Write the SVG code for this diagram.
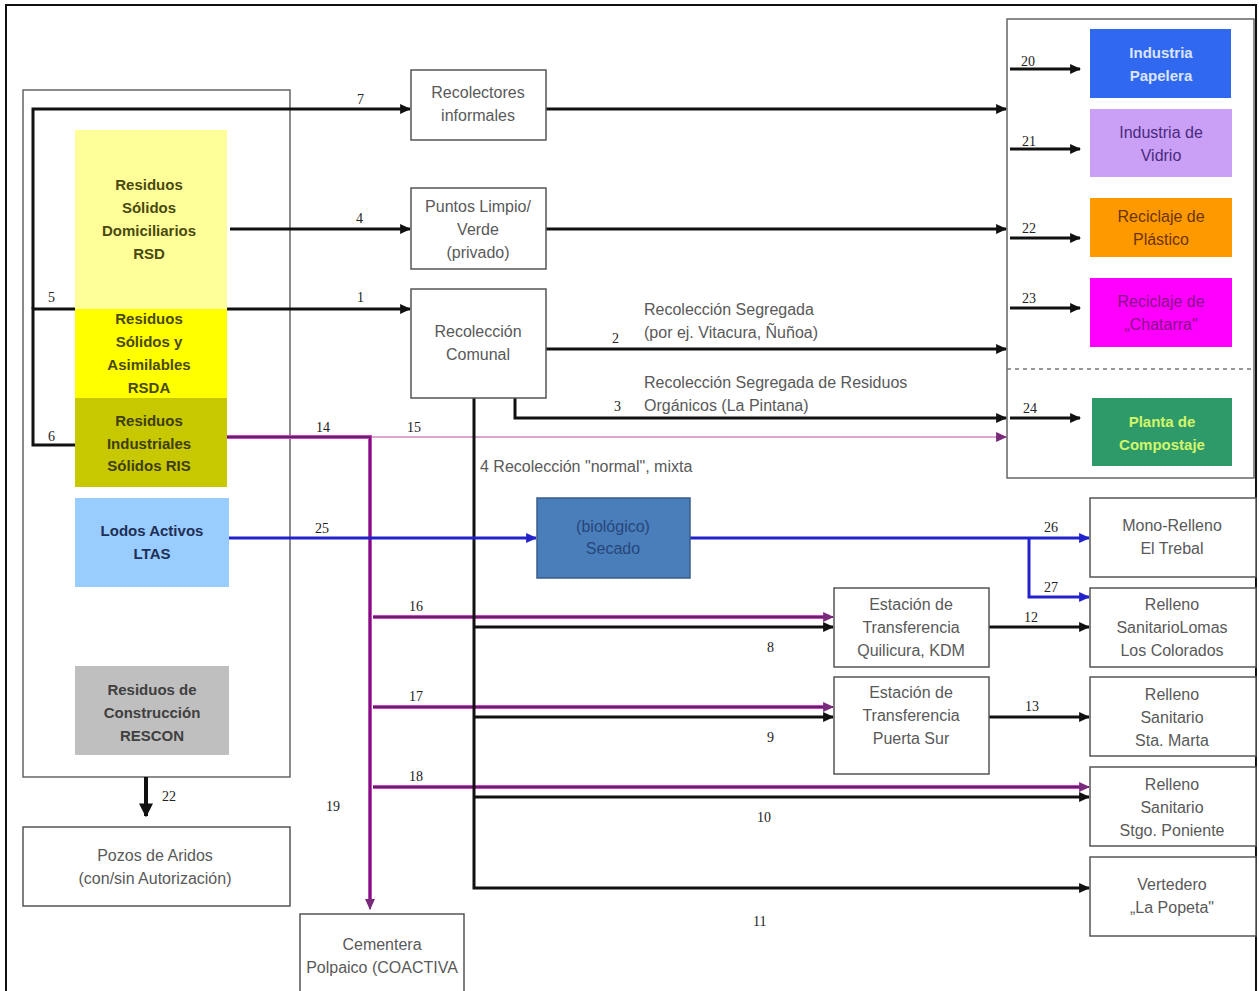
<svg xmlns="http://www.w3.org/2000/svg" width="1259" height="991" viewBox="0 0 1259 991">
<defs>
<style>
.box{fill:#fff;stroke:#555;stroke-width:1.5}
.t{font-family:"Liberation Sans",Arial,sans-serif;font-size:16px;fill:#595959;text-anchor:middle}
.tb{font-family:"Liberation Sans",Arial,sans-serif;font-size:15px;font-weight:bold;text-anchor:middle}
.n{font-family:"Liberation Serif","Times New Roman",serif;font-size:14px;fill:#222}
.lbl{font-family:"Liberation Sans",Arial,sans-serif;font-size:16px;fill:#595959}
.k{fill:none;stroke:#111;stroke-width:3}
.pu{fill:none;stroke:#d040c8;stroke-width:4}
.pi{fill:none;stroke:#6a1f6a;stroke-width:2}
.bl{fill:none;stroke:#2222cc;stroke-width:3}
</style>
<marker id="ak" viewBox="0 0 10 10" refX="9" refY="5" markerWidth="11" markerHeight="11" markerUnits="userSpaceOnUse" orient="auto"><path d="M0,0.5 L10,5 L0,9.5 z" fill="#111"/></marker>
<marker id="ap" viewBox="0 0 10 10" refX="9" refY="5" markerWidth="11" markerHeight="11" markerUnits="userSpaceOnUse" orient="auto"><path d="M0,0.5 L10,5 L0,9.5 z" fill="#7a2a7a"/></marker>
<marker id="ab" viewBox="0 0 10 10" refX="9" refY="5" markerWidth="11" markerHeight="11" markerUnits="userSpaceOnUse" orient="auto"><path d="M0,0.5 L10,5 L0,9.5 z" fill="#2222cc"/></marker>
<marker id="abig" viewBox="0 0 10 10" refX="9" refY="5" markerWidth="14" markerHeight="14" markerUnits="userSpaceOnUse" orient="auto"><path d="M0,0 L10,5 L0,10 z" fill="#111"/></marker>
</defs>
<rect x="0" y="0" width="1259" height="991" fill="#fff"/>
<rect x="6" y="5" width="1250" height="990" fill="none" stroke="#111" stroke-width="2"/>

<g id="source-frame"><rect x="23" y="90" width="267" height="687" fill="none" stroke="#666" stroke-width="1.5"/></g>
<g id="recycling-frame">
<rect x="1007" y="19" width="247" height="459" fill="none" stroke="#666" stroke-width="1.5"/>
<line x1="1007" y1="369" x2="1254" y2="369" stroke="#777" stroke-width="1.5" stroke-dasharray="4,4"/>
</g>

<g id="connectors">
<path class="k" d="M75,309 H33 V445 H75"/>
<path class="k" d="M33,309 V109 H410" marker-end="url(#ak)"/>
<path class="k" d="M230,229 H410" marker-end="url(#ak)"/>
<path class="k" d="M227,309 H410" marker-end="url(#ak)"/>
<path class="k" d="M546,109 H1006" marker-end="url(#ak)"/>
<path class="k" d="M546,229 H1006" marker-end="url(#ak)"/>
<path class="k" d="M546,349 H1006" marker-end="url(#ak)"/>
<path class="k" d="M515,398 V418 H1006" marker-end="url(#ak)"/>
<path class="k" d="M1010,69 H1080" marker-end="url(#ak)"/>
<path class="k" d="M1010,149 H1080" marker-end="url(#ak)"/>
<path class="k" d="M1010,238 H1080" marker-end="url(#ak)"/>
<path class="k" d="M1010,308 H1080" marker-end="url(#ak)"/>
<path class="k" d="M1010,418 H1080" marker-end="url(#ak)"/>
<path d="M370,437 H1006" fill="none" stroke="#dca6cf" stroke-width="2" marker-end="url(#ap)"/>
<path class="pu" d="M227,437 H370 V900"/>
<path class="pi" d="M227,437 H370 V909" marker-end="url(#ap)"/>
<path class="pu" d="M373,617 H826"/><path class="pi" d="M373,617 H833" marker-end="url(#ap)"/>
<path class="pu" d="M373,707 H826"/><path class="pi" d="M373,707 H833" marker-end="url(#ap)"/>
<path class="pu" d="M373,787 H1082"/><path class="pi" d="M373,787 H1089" marker-end="url(#ap)"/>
<path class="k" d="M474,398 V888 H1089" marker-end="url(#ak)"/>
<path class="k" d="M474,627 H833" marker-end="url(#ak)"/>
<path class="k" d="M474,717 H833" marker-end="url(#ak)"/>
<path class="k" d="M474,797 H1089" marker-end="url(#ak)"/>
<path class="k" d="M989,627 H1089" marker-end="url(#ak)"/>
<path class="k" d="M989,717 H1089" marker-end="url(#ak)"/>
<path class="bl" d="M229,538 H536" marker-end="url(#ab)"/>
<path class="bl" d="M690,538 H1089" marker-end="url(#ab)"/>
<path class="bl" d="M1029,538 V597 H1089" marker-end="url(#ab)"/>
<path d="M146,777 V816" fill="none" stroke="#111" stroke-width="4" marker-end="url(#abig)"/>
</g>

<g id="rsd"><rect x="75" y="130" width="152" height="179" fill="#ffff99"/>
<text class="tb" fill="#4a4a10"><tspan x="149" y="190">Residuos</tspan><tspan x="149" y="213">Sólidos</tspan><tspan x="149" y="236">Domiciliarios</tspan><tspan x="149" y="259">RSD</tspan></text></g>
<g id="rsda"><rect x="75" y="309" width="152" height="89" fill="#ffff00"/>
<text class="tb" fill="#4a4a10"><tspan x="149" y="324">Residuos</tspan><tspan x="149" y="347">Sólidos y</tspan><tspan x="149" y="370">Asimilables</tspan><tspan x="149" y="393">RSDA</tspan></text></g>
<g id="ris"><rect x="75" y="398" width="152" height="89" fill="#c8c800"/>
<text class="tb" fill="#3e3e10"><tspan x="149" y="426">Residuos</tspan><tspan x="149" y="449">Industriales</tspan><tspan x="149" y="471">Sólidos RIS</tspan></text></g>
<g id="ltas"><rect x="75" y="498" width="154" height="89" fill="#99ccff"/>
<text class="tb" fill="#1f2f55"><tspan x="152" y="536">Lodos Activos</tspan><tspan x="152" y="559">LTAS</tspan></text></g>
<g id="rescon"><rect x="75" y="666" width="154" height="89" fill="#bfbfbf"/>
<text class="tb" fill="#404040"><tspan x="152" y="695">Residuos de</tspan><tspan x="152" y="718">Construcción</tspan><tspan x="152" y="741">RESCON</tspan></text></g>

<g id="recolectores"><rect class="box" x="411" y="70" width="135" height="70"/>
<text class="t"><tspan x="478" y="98">Recolectores</tspan><tspan x="478" y="121">informales</tspan></text></g>
<g id="puntos"><rect class="box" x="411" y="188" width="135" height="81"/>
<text class="t"><tspan x="478" y="212">Puntos Limpio/</tspan><tspan x="478" y="235">Verde</tspan><tspan x="478" y="258">(privado)</tspan></text></g>
<g id="comunal"><rect class="box" x="411" y="289" width="135" height="109"/>
<text class="t"><tspan x="478" y="337">Recolección</tspan><tspan x="478" y="360">Comunal</tspan></text></g>
<g id="secado"><rect x="537" y="498" width="153" height="80" fill="#4a7ebb" stroke="#385d8a" stroke-width="1.5"/>
<text class="t" style="fill:#27467a"><tspan x="613" y="532">(biológico)</tspan><tspan x="613" y="554">Secado</tspan></text></g>
<g id="quilicura"><rect class="box" x="834" y="588" width="155" height="79"/>
<text class="t"><tspan x="911" y="610">Estación de</tspan><tspan x="911" y="633">Transferencia</tspan><tspan x="911" y="656">Quilicura, KDM</tspan></text></g>
<g id="puertasur"><rect class="box" x="834" y="677" width="155" height="97"/>
<text class="t"><tspan x="911" y="698">Estación de</tspan><tspan x="911" y="721">Transferencia</tspan><tspan x="911" y="744">Puerta Sur</tspan></text></g>
<g id="pozos"><rect class="box" x="23" y="827" width="267" height="79"/>
<text class="t"><tspan x="155" y="861">Pozos de Aridos</tspan><tspan x="155" y="884">(con/sin Autorización)</tspan></text></g>
<g id="cementera"><rect class="box" x="300" y="914" width="164" height="80"/>
<text class="t"><tspan x="382" y="950">Cementera</tspan><tspan x="382" y="973">Polpaico (COACTIVA</tspan></text></g>

<g id="papelera"><rect x="1090" y="29" width="141" height="69" fill="#3069f0"/>
<text class="tb" style="fill:#dce4ff"><tspan x="1161" y="58">Industria</tspan><tspan x="1161" y="81">Papelera</tspan></text></g>
<g id="vidrio"><rect x="1090" y="109" width="142" height="68" fill="#c9a0f5"/>
<text class="t" style="fill:#4b2a80"><tspan x="1161" y="138">Industria de</tspan><tspan x="1161" y="161">Vidrio</tspan></text></g>
<g id="plastico"><rect x="1090" y="198" width="142" height="59" fill="#ff9900"/>
<text class="t" style="fill:#6b3500"><tspan x="1161" y="222">Reciclaje de</tspan><tspan x="1161" y="245">Plástico</tspan></text></g>
<g id="chatarra"><rect x="1090" y="278" width="142" height="69" fill="#ff00ff"/>
<text class="t" style="fill:#8a108a"><tspan x="1161" y="307">Reciclaje de</tspan><tspan x="1161" y="330">„Chatarra"</tspan></text></g>
<g id="compostaje"><rect x="1092" y="398" width="140" height="68" fill="#2e9a6a"/>
<text class="tb" style="fill:#d2f56a"><tspan x="1162" y="427">Planta de</tspan><tspan x="1162" y="450">Compostaje</tspan></text></g>

<g id="trebal"><rect class="box" x="1090" y="498" width="166" height="79"/>
<text class="t"><tspan x="1172" y="531">Mono-Relleno</tspan><tspan x="1172" y="554">El Trebal</tspan></text></g>
<g id="lomas"><rect class="box" x="1090" y="588" width="166" height="79"/>
<text class="t"><tspan x="1172" y="610">Relleno</tspan><tspan x="1172" y="633">SanitarioLomas</tspan><tspan x="1172" y="656">Los Colorados</tspan></text></g>
<g id="stamarta"><rect class="box" x="1090" y="677" width="166" height="79"/>
<text class="t"><tspan x="1172" y="700">Relleno</tspan><tspan x="1172" y="723">Sanitario</tspan><tspan x="1172" y="746">Sta. Marta</tspan></text></g>
<g id="poniente"><rect class="box" x="1090" y="767" width="166" height="79"/>
<text class="t"><tspan x="1172" y="790">Relleno</tspan><tspan x="1172" y="813">Sanitario</tspan><tspan x="1172" y="836">Stgo. Poniente</tspan></text></g>
<g id="popeta"><rect class="box" x="1090" y="857" width="166" height="79"/>
<text class="t"><tspan x="1172" y="890">Vertedero</tspan><tspan x="1172" y="913">„La Popeta"</tspan></text></g>

<g id="labels">
<text class="n" x="357" y="104">7</text>
<text class="n" x="356" y="223">4</text>
<text class="n" x="48" y="302">5</text>
<text class="n" x="357" y="302">1</text>
<text class="n" x="48" y="441">6</text>
<text class="n" x="316" y="432">14</text>
<text class="n" x="407" y="432">15</text>
<text class="n" x="315" y="533">25</text>
<text class="n" x="409" y="611">16</text>
<text class="n" x="409" y="701">17</text>
<text class="n" x="409" y="781">18</text>
<text class="n" x="326" y="811">19</text>
<text class="n" x="767" y="652">8</text>
<text class="n" x="767" y="742">9</text>
<text class="n" x="757" y="822">10</text>
<text class="n" x="753" y="926">11</text>
<text class="n" x="162" y="801">22</text>
<text class="n" x="612" y="343">2</text>
<text class="n" x="614" y="411">3</text>
<text class="n" x="1044" y="532">26</text>
<text class="n" x="1044" y="592">27</text>
<text class="n" x="1024" y="622">12</text>
<text class="n" x="1025" y="711">13</text>
<text class="n" x="1021" y="66">20</text>
<text class="n" x="1022" y="146">21</text>
<text class="n" x="1022" y="233">22</text>
<text class="n" x="1022" y="303">23</text>
<text class="n" x="1023" y="413">24</text>
<text class="lbl" x="644" y="315">Recolección Segregada</text>
<text class="lbl" x="644" y="338">(por ej. Vitacura, Ñuñoa)</text>
<text class="lbl" x="644" y="388">Recolección Segregada de Residuos</text>
<text class="lbl" x="644" y="411">Orgánicos (La Pintana)</text>
<text class="lbl" x="480" y="472">4  Recolección "normal", mixta</text>
</g>
</svg>
